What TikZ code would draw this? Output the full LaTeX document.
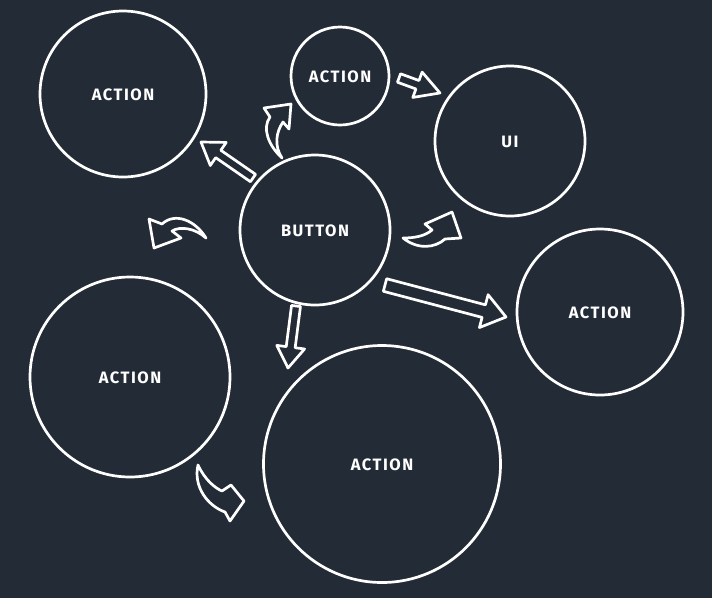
\documentclass[tikz,border=0pt]{standalone}
\usepackage{fontspec}
\setmainfont{Fira Sans}
\usetikzlibrary{calc}
\definecolor{bg}{RGB}{35,43,54}
\newcommand\blockarrow[5]{%
  \coordinate (bah) at ($(#2)!#5!(#1)$);
  \draw[arr] ($(#1)!#3!90:(#2)$) -- ($(bah)!#3!90:(#2)$) -- ($(bah)!#4!90:(#2)$) -- (#2)
    -- ($(bah)!#4!-90:(#2)$) -- ($(bah)!#3!-90:(#2)$) -- ($(#1)!#3!-90:(#2)$) -- cycle;}
\begin{document}
\begin{tikzpicture}[x=1pt,y=-1pt,
  circ/.style={circle,draw=white,line width=2.7pt,inner sep=0pt},
  lbl/.style={text=white,font=\addfontfeature{LetterSpace=9}\bfseries\fontsize{16.5}{19}\selectfont},
  arr/.style={draw=white,fill=bg,line width=2.7pt,line join=round}]
\fill[bg] (0,0) rectangle (712,598);
\useasboundingbox (0,0) rectangle (712,598);
% circles
\node[circ,minimum size=166pt] (a1) at (123,94) {};
\node[circ,minimum size=98pt] (a2) at (340,76) {};
\node[circ,minimum size=150pt] (ui) at (510,141) {};
\node[circ,minimum size=150pt] (btn) at (315,230) {};
\node[circ,minimum size=166pt] (a3) at (600,312) {};
\node[circ,minimum size=200pt] (a4) at (130,377) {};
\node[circ,minimum size=237pt] (a5) at (382,464) {};
% labels
\node[lbl] (t1) at ([yshift=-1pt]a1) {ACTION};
\node[lbl] (t2) at ([yshift=-1pt]a2) {ACTION};
\node[lbl] (t3) at ([yshift=-1pt]ui) {UI};
\node[lbl] (t4) at ([yshift=-1pt]btn) {BUTTON};
\node[lbl] (t5) at ([yshift=-1pt]a3) {ACTION};
\node[lbl] (t6) at ([yshift=-1pt]a4) {ACTION};
\node[lbl] (t7) at ([yshift=-1pt]a5) {ACTION};
% straight block arrows
\coordinate (s1) at (253,178); \coordinate (e1) at (201,142);
\blockarrow{s1}{e1}{4.5pt}{14pt}{21pt}
\coordinate (s2) at (399,78); \coordinate (e2) at (440,93);
\blockarrow{s2}{e2}{4.5pt}{13.5pt}{24pt}
\coordinate (s3) at (385,285); \coordinate (e3) at (506,317);
\blockarrow{s3}{e3}{6.5pt}{17pt}{23pt}
\coordinate (s4) at (296,306); \coordinate (e4) at (288,368);
\blockarrow{s4}{e4}{4.5pt}{14pt}{21pt}
% curved arrows
\draw[arr] (282,158) .. controls (268,145) and (262,128) .. (270,117) -- (264,108) -- (291,104)
  -- (289,129) -- (283,122) .. controls (276,132) and (274,146) .. (282,158) -- cycle;
\draw[arr] (206,238) .. controls (195,220) and (175,212) .. (162,224) -- (149,219) -- (154,248)
  -- (181,238) -- (172,231) .. controls (180,226) and (195,228) .. (206,238) -- cycle;
\draw[arr] (403,238) .. controls (418,250) and (435,248) .. (445,239) -- (461,238) -- (452,212)
  -- (425,224) -- (432,230) .. controls (425,236) and (415,238) .. (403,238) -- cycle;
\draw[arr] (198,465) .. controls (205,480) and (215,488) .. (222,491) -- (231,485) -- (244,501)
  -- (230,521) -- (225,512) .. controls (208,506) and (193,487) .. (198,465) -- cycle;
\end{tikzpicture}
\end{document}
